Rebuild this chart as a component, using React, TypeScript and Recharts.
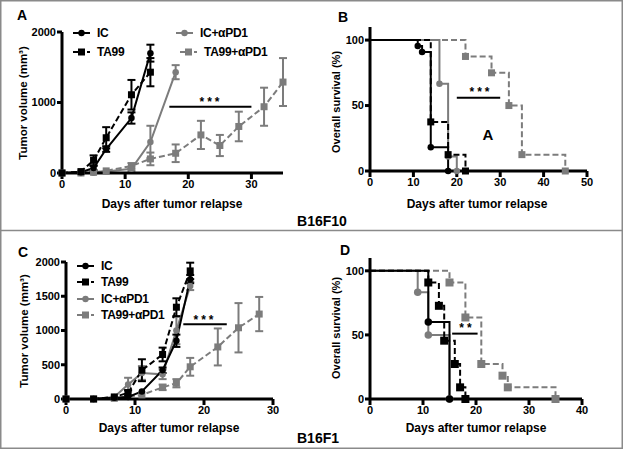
import React from 'react';
import { LineChart, Line, XAxis, YAxis, ErrorBar, ReferenceLine } from 'recharts';

const FONT = '"Liberation Sans", Arial, Helvetica, sans-serif';
const BLACK = '#000000';
const GRAY = '#7c7c7c';

// Panel A - B16F10 tumor volume (mm3)
const aDaysIC = [0, 3, 5, 7, 11, 14];
const aIC = [0, 10, 70, 340, 780, 1700];
const aICErr = [0, 0, 30, 40, 80, 120];
const aDaysTA99 = [0, 3, 5, 7, 11, 14];
const aTA99 = [0, 20, 180, 500, 1110, 1430];
const aTA99Err = [0, 0, 70, 150, 210, 200];
const aDaysICpd1 = [0, 3, 5, 7, 11, 14, 18];
const aICpd1 = [0, 0, 5, 20, 60, 440, 1430];
const aICpd1Err = [0, 0, 0, 0, 30, 230, 100];
const aDaysTA99pd1 = [0, 3, 5, 7, 11, 14, 18, 22, 25, 28, 32, 35];
const aTA99pd1 = [0, 0, 10, 30, 100, 200, 280, 540, 390, 660, 940, 1290];
const aTA99pd1Err = [0, 0, 0, 0, 40, 90, 125, 200, 150, 210, 270, 340];

// Panel B - B16F10 overall survival (%)
const bDaysIC = [0, 11, 12, 14, 18];
const bIC = [100, 95.5, 90.9, 18.2, 0];
const bDaysTA99 = [0, 14, 18, 22];
const bTA99 = [100, 37.5, 12.5, 0];
const bDaysICpd1 = [0, 16, 18, 20];
const bICpd1 = [100, 66.7, 11.1, 0];
const bDaysTA99pd1 = [0, 22, 28, 32, 35, 45];
const bTA99pd1 = [100, 87.5, 75, 50, 12.5, 0];

// Panel C - B16F1 tumor volume (mm3)
const cDaysIC = [0, 4, 7, 9, 11, 14, 16, 18];
const cIC = [0, 0, 20, 30, 110, 420, 850, 1750];
const cICErr = [0, 0, 0, 0, 0, 40, 90, 60];
const cDaysTA99 = [0, 4, 7, 9, 11, 14, 16, 18];
const cTA99 = [0, 0, 30, 90, 420, 650, 1340, 1870];
const cTA99Err = [0, 0, 0, 40, 160, 100, 130, 120];
const cDaysICpd1 = [0, 4, 7, 9, 11, 14, 16, 18];
const cICpd1 = [0, 0, 30, 210, 380, 360, 1000, 1650];
const cICpd1Err = [0, 0, 0, 100, 100, 70, 200, 60];
const cDaysTA99pd1 = [0, 4, 7, 11, 14, 16, 18, 22, 25, 28];
const cTA99pd1 = [0, 0, 10, 60, 170, 230, 470, 760, 1040, 1240];
const cTA99pd1Err = [0, 0, 0, 0, 40, 60, 130, 270, 360, 250];

// Panel D - B16F1 overall survival (%)
const dDaysIC = [0, 11, 15];
const dIC = [100, 60, 0];
const dDaysTA99 = [0, 11, 13, 14, 16, 17, 18];
const dTA99 = [100, 90.9, 72.7, 45.5, 27.3, 9.1, 0];
const dDaysICpd1 = [0, 9, 11, 15];
const dICpd1 = [100, 83.3, 50, 0];
const dDaysTA99pd1 = [0, 15, 18, 21, 25, 26, 35];
const dTA99pd1 = [100, 90.9, 63.6, 27.3, 18.2, 9.1, 0];

const groups = ['IC', 'TA99', 'IC+\u03b1PD1', 'TA99+\u03b1PD1'];

type Row = { x: number; y: number; e?: number };
type Shape = 'circle' | 'square';
type Series = { key: string; rows: Row[]; color: string; dashed: boolean; shape: Shape };

const rows = (xs: number[], ys: number[], es?: number[]): Row[] =>
  xs.map((x, i) => ({ x, y: ys[i], e: es ? es[i] : undefined }));

const makeDot = (shape: Shape, color: string, size: number, skipFirst: boolean) => (props: any) => {
  const { cx, cy, index } = props;
  if (cx == null || cy == null || (skipFirst && index === 0)) return <g key={`n-${index}`} />;
  if (shape === 'circle') return <circle key={`c-${index}`} cx={cx} cy={cy} r={size / 2} fill={color} />;
  return <rect key={`s-${index}`} x={cx - size / 2} y={cy - size / 2} width={size} height={size} fill={color} />;
};

const tickStyle = { fontSize: 11, fontWeight: 700, fill: BLACK, fontFamily: FONT };
const axisStroke = { stroke: BLACK, strokeWidth: 3 };

type PanelProps = {
  left: number; top: number; width: number; height: number;
  margin: { top: number; right: number; bottom: number; left: number };
  xMax: number; xTicks: number[]; yMax: number; yTicks: number[];
  series: Series[]; step: boolean; dotSize: number;
  sig: { x1: number; x2: number; y: number };
};

function Panel(p: PanelProps) {
  return (
    <div style={{ position: 'absolute', left: p.left, top: p.top }}>
      <LineChart width={p.width} height={p.height} margin={p.margin}>
        <XAxis type="number" dataKey="x" domain={[0, p.xMax]} ticks={p.xTicks} height={30}
          axisLine={axisStroke} tickLine={axisStroke} tickSize={6} tickMargin={1} tick={tickStyle} />
        <YAxis type="number" domain={[0, p.yMax]} ticks={p.yTicks} width={40}
          axisLine={axisStroke} tickLine={axisStroke} tickSize={5} tickMargin={1} tick={tickStyle} />
        {p.series.map((s) => (
          <Line key={s.key} data={s.rows} dataKey="y" type={p.step ? 'stepAfter' : 'linear'}
            stroke={s.color} strokeWidth={2} strokeDasharray={s.dashed ? '6 3' : undefined}
            dot={makeDot(s.shape, s.color, s.shape === 'circle' ? p.dotSize - 0.5 : p.dotSize, p.step)}
            activeDot={false} isAnimationActive={false}>
            {!p.step && (
              <ErrorBar dataKey="e" direction="y" width={4} stroke={s.color} strokeWidth={2} isAnimationActive={false} />
            )}
          </Line>
        ))}
        <ReferenceLine segment={[{ x: p.sig.x1, y: p.sig.y }, { x: p.sig.x2, y: p.sig.y }]}
          stroke={BLACK} strokeWidth={2} ifOverflow="visible" />
      </LineChart>
    </div>
  );
}

function LegendItem({ x, y, color, dashed, shape, label }: { x: number; y: number; color: string; dashed: boolean; shape: Shape; label: string }) {
  return (
    <g>
      <line x1={x} x2={x + 17} y1={y} y2={y} stroke={color} strokeWidth={2} strokeDasharray={dashed ? '5 2' : undefined} />
      {shape === 'circle'
        ? <circle cx={x + 8.5} cy={y} r={3.2} fill={color} />
        : <rect x={x + 5} y={y - 3.5} width={7} height={7} fill={color} />}
      <text x={x + 24} y={y + 4.3} fontSize={12} fontWeight={700} fill={BLACK} letterSpacing={-0.3}>{label}</text>
    </g>
  );
}

export default function App() {
  const aSeries: Series[] = [
    { key: 'tp', rows: rows(aDaysTA99pd1, aTA99pd1, aTA99pd1Err), color: GRAY, dashed: true, shape: 'square' },
    { key: 'ip', rows: rows(aDaysICpd1, aICpd1, aICpd1Err), color: GRAY, dashed: false, shape: 'circle' },
    { key: 'ic', rows: rows(aDaysIC, aIC, aICErr), color: BLACK, dashed: false, shape: 'circle' },
    { key: 'ta', rows: rows(aDaysTA99, aTA99, aTA99Err), color: BLACK, dashed: true, shape: 'square' },
  ];
  const bSeries: Series[] = [
    { key: 'tp', rows: rows(bDaysTA99pd1, bTA99pd1), color: GRAY, dashed: true, shape: 'square' },
    { key: 'ip', rows: rows(bDaysICpd1, bICpd1), color: GRAY, dashed: false, shape: 'circle' },
    { key: 'ta', rows: rows(bDaysTA99, bTA99), color: BLACK, dashed: true, shape: 'square' },
    { key: 'ic', rows: rows(bDaysIC, bIC), color: BLACK, dashed: false, shape: 'circle' },
  ];
  const cSeries: Series[] = [
    { key: 'tp', rows: rows(cDaysTA99pd1, cTA99pd1, cTA99pd1Err), color: GRAY, dashed: true, shape: 'square' },
    { key: 'ip', rows: rows(cDaysICpd1, cICpd1, cICpd1Err), color: GRAY, dashed: false, shape: 'circle' },
    { key: 'ic', rows: rows(cDaysIC, cIC, cICErr), color: BLACK, dashed: false, shape: 'circle' },
    { key: 'ta', rows: rows(cDaysTA99, cTA99, cTA99Err), color: BLACK, dashed: true, shape: 'square' },
  ];
  const dSeries: Series[] = [
    { key: 'tp', rows: rows(dDaysTA99pd1, dTA99pd1), color: GRAY, dashed: true, shape: 'square' },
    { key: 'ip', rows: rows(dDaysICpd1, dICpd1), color: GRAY, dashed: false, shape: 'circle' },
    { key: 'ta', rows: rows(dDaysTA99, dTA99), color: BLACK, dashed: true, shape: 'square' },
    { key: 'ic', rows: rows(dDaysIC, dIC), color: BLACK, dashed: false, shape: 'circle' },
  ];

  const xLabel = 'Days after tumor relapse';
  const labelStyle = { fontSize: 12, fontWeight: 700, fill: BLACK };

  return (
    <div style={{ position: 'absolute', left: 0, top: 0, width: 623, height: 449, background: '#fff', fontFamily: FONT, overflow: 'hidden' }}>
      <Panel left={0} top={0} width={310} height={225} margin={{ top: 32, right: 27, bottom: 22, left: 22 }}
        xMax={35} xTicks={[0, 10, 20, 30]} yMax={2000} yTicks={[0, 1000, 2000]}
        series={aSeries} step={false} dotSize={7} sig={{ x1: 17, x2: 30, y: 940 }} />
      <Panel left={310} top={0} width={313} height={225} margin={{ top: 27, right: 36, bottom: 24, left: 20 }}
        xMax={50} xTicks={[0, 10, 20, 30, 40, 50]} yMax={110} yTicks={[0, 50, 100]}
        series={bSeries} step={true} dotSize={7} sig={{ x1: 20, x2: 30, y: 56 }} />
      <Panel left={0} top={231} width={310} height={218} margin={{ top: 31, right: 37, bottom: 20, left: 26 }}
        xMax={30} xTicks={[0, 10, 20, 30]} yMax={2000} yTicks={[0, 500, 1000, 1500, 2000]}
        series={cSeries} step={false} dotSize={7} sig={{ x1: 17, x2: 23.3, y: 1090 }} />
      <Panel left={310} top={231} width={313} height={218} margin={{ top: 27, right: 41, bottom: 20, left: 20 }}
        xMax={40} xTicks={[0, 10, 20, 30, 40]} yMax={110} yTicks={[0, 50, 100]}
        series={dSeries} step={true} dotSize={8} sig={{ x1: 15.5, x2: 20.3, y: 51 }} />

      <svg width={623} height={449} style={{ position: 'absolute', left: 0, top: 0, pointerEvents: 'none' }} fontFamily={FONT}>
        <rect x={0.75} y={0.75} width={621.5} height={447.5} fill="none" stroke="#8a8a8a" strokeWidth={1.5} />
        <line x1={0} x2={623} y1={230.5} y2={230.5} stroke="#8a8a8a" strokeWidth={1.5} />

        <text x={17} y={20} fontSize={14} fontWeight={700}>A</text>
        <text x={338} y={22} fontSize={14} fontWeight={700}>B</text>
        <text x={18} y={257} fontSize={14} fontWeight={700}>C</text>
        <text x={340} y={255} fontSize={14} fontWeight={700}>D</text>

        <text transform="translate(23,103) rotate(-90)" textAnchor="middle" dominantBaseline="central" fontSize={11.5} fontWeight={700}>Tumor volume (mm³)</text>
        <text transform="translate(336,102) rotate(-90)" textAnchor="middle" dominantBaseline="central" fontSize={11} fontWeight={700}>Overall survival (%)</text>
        <text transform="translate(24,331) rotate(-90)" textAnchor="middle" dominantBaseline="central" fontSize={11.5} fontWeight={700}>Tumor volume (mm³)</text>
        <text transform="translate(336,328) rotate(-90)" textAnchor="middle" dominantBaseline="central" fontSize={11} fontWeight={700}>Overall survival (%)</text>

        <text x={172} y={208} textAnchor="middle" {...labelStyle}>{xLabel}</text>
        <text x={477} y={208} textAnchor="middle" {...labelStyle}>{xLabel}</text>
        <text x={169} y={432} textAnchor="middle" {...labelStyle}>{xLabel}</text>
        <text x={476} y={432} textAnchor="middle" {...labelStyle}>{xLabel}</text>

        <text x={322} y={225.5} textAnchor="middle" fontSize={14} fontWeight={700}>B16F10</text>
        <text x={318} y={443} textAnchor="middle" fontSize={14} fontWeight={700}>B16F1</text>

        <text x={211} y={106} textAnchor="middle" fontSize={12} fontWeight={700} letterSpacing={3}>***</text>
        <text x={481} y={96} textAnchor="middle" fontSize={12} fontWeight={700} letterSpacing={3}>***</text>
        <text x={205} y={324} textAnchor="middle" fontSize={12} fontWeight={700} letterSpacing={3}>***</text>
        <text x={467} y={332} textAnchor="middle" fontSize={12} fontWeight={700} letterSpacing={3}>**</text>
        <text x={488} y={140} textAnchor="middle" fontSize={15} fontWeight={700}>A</text>

        <LegendItem x={73} y={33} color={BLACK} dashed={false} shape="circle" label={groups[0]} />
        <LegendItem x={73} y={52} color={BLACK} dashed={true} shape="square" label={groups[1]} />
        <LegendItem x={176} y={33} color={GRAY} dashed={false} shape="circle" label={groups[2]} />
        <LegendItem x={180} y={52} color={GRAY} dashed={true} shape="square" label={groups[3]} />

        <LegendItem x={77} y={266} color={BLACK} dashed={false} shape="circle" label={groups[0]} />
        <LegendItem x={77} y={282} color={BLACK} dashed={true} shape="square" label={groups[1]} />
        <LegendItem x={77} y={299} color={GRAY} dashed={false} shape="circle" label={groups[2]} />
        <LegendItem x={77} y={315} color={GRAY} dashed={true} shape="square" label={groups[3]} />
      </svg>
    </div>
  );
}
